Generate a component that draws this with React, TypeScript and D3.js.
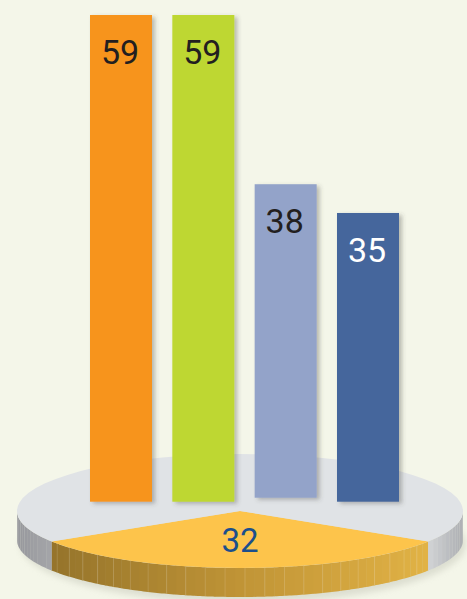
import React, { useEffect, useRef } from "react";
import * as d3 from "d3";

// chart values
const barValues = [59, 59, 38, 35];
const barLabels = ["59", "59", "38", "35"];
const pieValues = [32, 68];
const pieLabels = ["32", ""];

// styles
const barColors = ["#f7941e", "#bed730", "#93a3c9", "#44669c"];
const barTextColors = ["#231f20", "#231f20", "#231f20", "#ffffff"];
const pieTopColors = ["#fdc44b", "#e0e3e6"];
const pieSideStops: string[][] = [
  ["#95742b", "#c09436", "#e1b245"],
  ["#97989d", "#a4a5a9", "#d2d4d6", "#acaeb2"],
];

const W = 467;
const H = 599;

export default function App() {
  const svgRef = useRef<SVGSVGElement>(null);

  useEffect(() => {
    if (!svgRef.current) return;
    const svg = d3.select(svgRef.current);
    svg.selectAll("*").remove();

    svg.attr("width", W).attr("height", H);

    const defs = svg.append("defs");
    const shadow = defs
      .append("filter")
      .attr("id", "barShadow")
      .attr("x", "-20%")
      .attr("y", "-10%")
      .attr("width", "150%")
      .attr("height", "130%");
    shadow
      .append("feDropShadow")
      .attr("dx", 3)
      .attr("dy", 2)
      .attr("stdDeviation", 2)
      .attr("flood-color", "#4a4a40")
      .attr("flood-opacity", 0.35);

    svg
      .append("rect")
      .attr("width", W)
      .attr("height", H)
      .attr("fill", "#f4f6e9");

    // --- the disc ---
    const cx = 240;
    const cy = 511;
    const rx = 223;
    const ry = 57;
    const depth = 29;

    const start = Math.PI - (pieValues[0] / 100) * Math.PI;
    const pie = d3
      .pie<number>()
      .sort(null)
      .value((d) => d)
      .startAngle(start)
      .endAngle(start + 2 * Math.PI);
    const slices = pie(pieValues);

    const ex = (a: number) => cx + rx * Math.sin(a);
    const ey = (a: number) => cy - ry * Math.cos(a);

    // side colour scales, by x position
    const rightEdge = ex(slices[0].startAngle);
    const leftEdge = ex(slices[0].endAngle);
    const sideColor = [
      d3
        .scaleLinear<string>()
        .domain([leftEdge, cx, rightEdge])
        .range(pieSideStops[0])
        .clamp(true),
      d3
        .scaleLinear<string>()
        .domain([cx - rx, leftEdge, rightEdge, cx + rx])
        .range(pieSideStops[1])
        .clamp(true),
    ];

    // soft shadow below disc
    svg
      .append("ellipse")
      .attr("cx", cx + 3)
      .attr("cy", cy + depth + 4)
      .attr("rx", rx)
      .attr("ry", ry + 2)
      .attr("fill", "#c9cbbd")
      .attr("opacity", 0.55)
      .style("filter", "blur(3px)");

    const sideG = svg.append("g");

    // visible front side between PI/2 and 3PI/2, drawn in thin strips
    const drawSide = (
      a0: number,
      a1: number,
      color: (v: number) => string,
      seams: boolean
    ) => {
      const lo = Math.max(a0, Math.PI / 2);
      const hi = Math.min(a1, (3 * Math.PI) / 2);
      if (hi <= lo) return;
      const n = Math.max(3, Math.round(((hi - lo) / Math.PI) * 70));
      const step = (hi - lo) / n;
      for (let i = 0; i < n; i++) {
        const s = lo + i * step;
        const e = s + step + 0.002;
        const pts: [number, number][] = [];
        const k = 4;
        for (let j = 0; j <= k; j++) {
          const a = s + ((e - s) * j) / k;
          pts.push([ex(a), ey(a)]);
        }
        for (let j = k; j >= 0; j--) {
          const a = s + ((e - s) * j) / k;
          pts.push([ex(a), ey(a) + depth]);
        }
        const mid = s + step / 2;
        sideG
          .append("path")
          .attr("d", d3.line()(pts) + "Z")
          .attr("fill", color(ex(mid)));
        if (seams && i > 0 && i % 2 === 0) {
          sideG
            .append("line")
            .attr("x1", ex(s))
            .attr("x2", ex(s))
            .attr("y1", ey(s))
            .attr("y2", ey(s) + depth)
            .attr("stroke", "#ffffff")
            .attr("stroke-opacity", 0.18)
            .attr("stroke-width", 0.8);
        }
      }
    };

    slices.forEach((sl, i) => {
      [0, -2 * Math.PI, 2 * Math.PI].forEach((off) => {
        drawSide(sl.startAngle + off, sl.endAngle + off, sideColor[i], i === 0);
      });
    });

    const topG = svg
      .append("g")
      .attr("transform", `translate(${cx},${cy}) scale(1,${ry / rx})`);
    const arc = d3.arc<d3.PieArcDatum<number>>().innerRadius(0).outerRadius(rx);
    topG
      .selectAll("path")
      .data(slices)
      .join("path")
      .attr("d", arc)
      .attr("fill", (_, i) => pieTopColors[i]);

    // --- bars ---
    const x = d3
      .scaleBand<number>()
      .domain(barValues.map((_, i) => i))
      .range([90, 399])
      .paddingInner(0.247)
      .paddingOuter(0);
    const h = d3.scaleLinear().domain([0, 59]).range([0, 486.7]);
    const baseShift = [0, 0, -4, 0];
    const base = 501.7;

    const bars = svg
      .append("g")
      .selectAll("g")
      .data(barValues)
      .join("g");

    bars
      .append("rect")
      .attr("x", (_, i) => x(i)!)
      .attr("y", (d, i) => base + baseShift[i] - h(d))
      .attr("width", x.bandwidth())
      .attr("height", (d) => h(d))
      .attr("fill", (_, i) => barColors[i])
      .attr("filter", "url(#barShadow)");

    bars
      .append("text")
      .attr("x", (_, i) => x(i)! + x.bandwidth() / 2 - 1)
      .attr("y", (d, i) => base + baseShift[i] - h(d) + 49)
      .attr("text-anchor", "middle")
      .attr("font-family", "Roboto, 'Liberation Sans', sans-serif")
      .attr("font-size", 34)
      .attr("fill", (_, i) => barTextColors[i])
      .text((_, i) => barLabels[i]);

    // pie label
    const mid = (slices[0].startAngle + slices[0].endAngle) / 2;
    svg
      .append("text")
      .attr("x", ex(mid))
      .attr("y", cy + 41)
      .attr("text-anchor", "middle")
      .attr("font-family", "Roboto, 'Liberation Sans', sans-serif")
      .attr("font-size", 33)
      .attr("fill", "#1c4f8c")
      .text(pieLabels[0]);
  }, []);

  return (
    <div style={{ position: "absolute", left: 0, top: 0 }}>
      <svg ref={svgRef} style={{ display: "block" }} />
    </div>
  );
}
